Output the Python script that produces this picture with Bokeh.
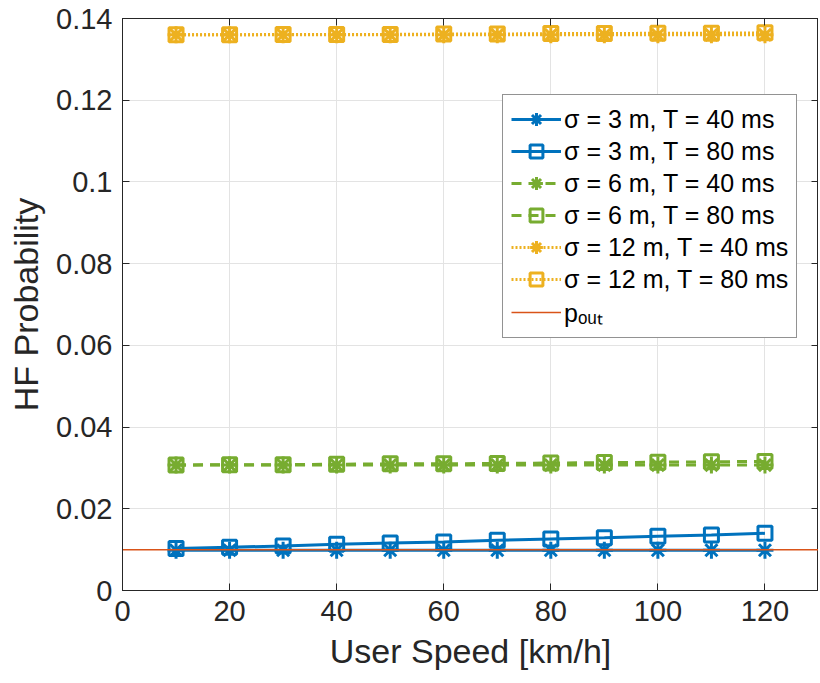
from bokeh.plotting import figure
from bokeh.models import Legend, LegendItem, LinearAxis, FixedTicker, Range1d
from bokeh.embed import file_html
from bokeh.resources import INLINE

speeds = [10, 20, 30, 40, 50, 60, 70, 80, 90, 100, 110, 120]
s3_t40 = [0.00985] * 12
s3_t80 = [0.0103, 0.0106, 0.0109, 0.0113, 0.0116, 0.0119, 0.0123, 0.0126, 0.0129, 0.0133, 0.0136, 0.0140]
s6_t40 = [0.0307, 0.0307, 0.0307, 0.0307, 0.0307, 0.0307, 0.0307, 0.0307, 0.0307, 0.0307, 0.0307, 0.0307]
s6_t80 = [0.0307, 0.0308, 0.0308, 0.0309, 0.0310, 0.0310, 0.0311, 0.0312, 0.0313, 0.0314, 0.0315, 0.0316]
s12_t40 = [0.1360] * 12
s12_t80 = [0.1360, 0.1360, 0.1361, 0.1361, 0.1361, 0.1362, 0.1362, 0.1363, 0.1363, 0.1364, 0.1364, 0.1365]
p_out = 0.01

x_ticks = [0, 20, 40, 60, 80, 100, 120]
y_ticks = [0, 0.02, 0.04, 0.06, 0.08, 0.1, 0.12, 0.14]
y_tick_labels = ["0", "0.02", "0.04", "0.06", "0.08", "0.1", "0.12", "0.14"]

labels = ["\u03c3 = 3 m, T = 40 ms", "\u03c3 = 3 m, T = 80 ms",
          "\u03c3 = 6 m, T = 40 ms", "\u03c3 = 6 m, T = 80 ms",
          "\u03c3 = 12 m, T = 40 ms", "\u03c3 = 12 m, T = 80 ms",
          "p\u2092\u1d64\u209c"]

BLUE = "#0072BD"
GREEN = "#77AC30"
YELLOW = "#EDB120"
RED = "#D95319"
FONT = "Liberation Sans"
AX = "#262626"

p = figure(width=818, height=680, output_backend="svg", toolbar_location=None,
           x_range=Range1d(0, 130), y_range=Range1d(0, 0.14),
           min_border_left=122, min_border_right=0, min_border_top=18, min_border_bottom=90)
p.outline_line_color = AX
p.outline_line_width = 1

for ax in [p.xaxis[0], p.yaxis[0]]:
    ax.major_tick_in = 7
    ax.major_tick_out = 0
    ax.minor_tick_in = 0
    ax.minor_tick_out = 0
    ax.axis_line_color = AX
    ax.major_tick_line_color = AX
    ax.major_label_text_font = FONT
    ax.major_label_text_font_size = "29px"
    ax.major_label_text_color = AX
    ax.axis_label_text_font = FONT
    ax.axis_label_text_font_size = "34px"
    ax.axis_label_text_font_style = "normal"
    ax.axis_label_text_color = AX
    ax.axis_label_standoff = 8

p.xaxis[0].ticker = FixedTicker(ticks=x_ticks)
p.yaxis[0].ticker = FixedTicker(ticks=y_ticks)
p.yaxis[0].major_label_overrides = {t: l for t, l in zip(y_ticks, y_tick_labels)}
p.xaxis[0].axis_label = "User Speed [km/h]"
p.yaxis[0].axis_label = "HF Probability"
p.xaxis[0].major_label_standoff = 10
p.yaxis[0].major_label_standoff = 10

top = LinearAxis(ticker=FixedTicker(ticks=x_ticks), major_label_text_font_size="0px",
                 major_tick_in=7, major_tick_out=0, minor_tick_in=0, minor_tick_out=0,
                 axis_line_color=AX, major_tick_line_color=AX)
right = LinearAxis(ticker=FixedTicker(ticks=y_ticks), major_label_text_font_size="0px",
                   major_tick_in=7, major_tick_out=0, minor_tick_in=0, minor_tick_out=0,
                   axis_line_color=AX, major_tick_line_color=AX)
top.major_label_overrides = {t: "" for t in x_ticks}
right.major_label_overrides = {t: "" for t in y_ticks}
p.add_layout(top, "above")
p.add_layout(right, "right")

p.xgrid.ticker = FixedTicker(ticks=x_ticks)
p.ygrid.ticker = FixedTicker(ticks=y_ticks)
p.grid.grid_line_color = "#E3E3E3"
p.grid.grid_line_width = 1

items = []
series = [
    (s3_t40, BLUE, "solid", "asterisk", 17),
    (s3_t80, BLUE, "solid", "square", 14),
    (s6_t40, GREEN, "10 7", "asterisk", 17),
    (s6_t80, GREEN, "10 7", "square", 14),
    (s12_t40, YELLOW, "2 2", "asterisk", 17),
    (s12_t80, YELLOW, "2 2", "square", 14),
]
for (ys, col, dash, mk, sz), lab in zip(series, labels[:6]):
    r1 = p.line(speeds, ys, line_color=col, line_width=3, line_dash=dash)
    r2 = p.scatter(speeds, ys, marker=mk, size=sz, line_color=col, line_width=3,
                   fill_color=None)
    items.append(LegendItem(label=lab, renderers=[r1, r2]))

r_out = p.line([0, 130], [p_out, p_out], line_color=RED, line_width=1.5)
items.append(LegendItem(label=labels[6], renderers=[r_out]))

legend = Legend(items=items, location=(380, 252))
legend.label_text_font = FONT
legend.label_text_font_size = "25px"
legend.label_text_color = "#000000"
legend.border_line_color = AX
legend.border_line_width = 1
legend.background_fill_color = "white"
legend.background_fill_alpha = 1
legend.glyph_width = 50
legend.glyph_height = 32
legend.label_height = 32
legend.label_standoff = 3
legend.spacing = 0
legend.padding = 8
legend.margin = 0
p.add_layout(legend, "center")

open("out.html", "w").write(file_html(p, INLINE))
